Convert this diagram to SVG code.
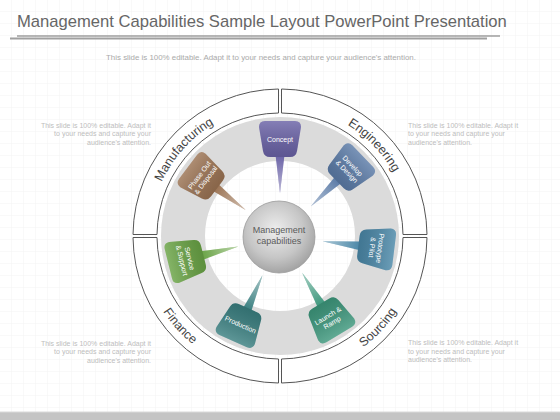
<svg xmlns="http://www.w3.org/2000/svg" xmlns:xlink="http://www.w3.org/1999/xlink" width="560" height="420" viewBox="0 0 560 420">
<style>
.title{font-family:"Liberation Sans",Arial,sans-serif;font-size:16.6px;fill:#666}
.sub{font-family:"Liberation Sans",Arial,sans-serif;font-size:7.9px;fill:#aaa;text-anchor:middle}
.side{font-family:"Liberation Sans",Arial,sans-serif;font-size:7px;fill:#bdbdbd}
.sl{text-anchor:end}
.band{fill:#fff;stroke:#555;stroke-width:1}
.rl{font-family:"Liberation Sans",Arial,sans-serif;font-size:12.5px;fill:#444}
.nt{font-family:"Liberation Sans",Arial,sans-serif;font-size:7px;fill:#fff;text-anchor:middle}
.ct{font-family:"Liberation Sans",Arial,sans-serif;font-size:9px;fill:#5a5a5a;text-anchor:middle}
</style>
<defs>
<pattern id="grid" width="12" height="12" patternUnits="userSpaceOnUse"><path d="M12 0V12M0 12H12" fill="none" stroke="#f3f3f3" stroke-width="1"/></pattern>
<linearGradient id="shade" x1="0" y1="0" x2="0" y2="1"><stop offset="0" stop-color="#fff" stop-opacity="0.18"/><stop offset="1" stop-color="#000" stop-opacity="0.12"/></linearGradient>
<linearGradient id="tailfade" x1="0" y1="0" x2="0" y2="1"><stop offset="0" stop-color="#fff" stop-opacity="0"/><stop offset="1" stop-color="#fff" stop-opacity="0.55"/></linearGradient>
<radialGradient id="sph" cx="0.45" cy="0.4" r="0.65"><stop offset="0" stop-color="#eeeeee"/><stop offset="0.6" stop-color="#c6c6c6"/><stop offset="1" stop-color="#9c9c9c"/></radialGradient>
<path id="box" d="M265,121 H295 Q301,121 301,127 L297,151 Q296,157 290,157 H270 Q264,157 263,151 L259,127 Q259,121 265,121 Z"/>
<path id="tail" d="M275.5,155 L284.5,155 L280,193 Z"/>
<path id="pManu" d="M156.4,276.2 A130,130 0 0 1 307,108.8"/>
<path id="pEng" d="M248.6,109.9 A130,130 0 0 1 405,271.8"/>
<path id="pFin" d="M147.8,193 A139,139 0 0 0 308.9,372"/>
<path id="pSrc" d="M248.7,371.4 A139,139 0 0 0 412.9,195.4"/>
</defs>
<rect width="560" height="420" fill="#fff"/>
<rect width="560" height="412" fill="url(#grid)"/>
<rect y="412" width="560" height="8" fill="#c4c4c4"/>
<line x1="0" y1="412" x2="560" y2="412" stroke="#d9d9d9" stroke-width="1"/>
<text class="title" x="17" y="27">Management Capabilities Sample Layout PowerPoint Presentation</text>
<line x1="17" y1="36" x2="500" y2="36" stroke="#707070" stroke-width="1.2"/>
<line x1="10" y1="38.6" x2="487" y2="38.6" stroke="#a0a0a0" stroke-width="2"/>
<text class="sub" x="261" y="60">This slide is 100% editable.  Adapt it to your needs and capture your audience's attention.</text>
<text class="side sl" x="151"><tspan x="151" y="127.5">This slide is 100% editable. Adapt it</tspan><tspan x="151" y="136">to your needs and capture your</tspan><tspan x="151" y="144.5">audience's attention.</tspan></text>
<text class="side" x="408"><tspan x="408" y="127.5">This slide is 100% editable. Adapt it</tspan><tspan x="408" y="136">to your needs and capture your</tspan><tspan x="408" y="144.5">audience's attention.</tspan></text>
<text class="side sl" x="151"><tspan x="151" y="345.5">This slide is 100% editable. Adapt it</tspan><tspan x="151" y="354">to your needs and capture your</tspan><tspan x="151" y="362.5">audience's attention.</tspan></text>
<text class="side" x="408"><tspan x="408" y="345">This slide is 100% editable. Adapt it</tspan><tspan x="408" y="353.5">to your needs and capture your</tspan><tspan x="408" y="362">audience's attention.</tspan></text>
<g id="ring-manufacturing"><path class="band" d="M133,234.5 A147,147 0 0 1 278.5,89 L278.5,113 A123,123 0 0 0 157,234.5 Z"/><text class="rl"><textPath href="#pManu" startOffset="50%" text-anchor="middle">Manufacturing</textPath></text></g>
<g id="ring-engineering"><path class="band" d="M281.5,89 A147,147 0 0 1 427,234.5 L403,234.5 A123,123 0 0 0 281.5,113 Z"/><text class="rl"><textPath href="#pEng" startOffset="50%" text-anchor="middle">Engineering</textPath></text></g>
<g id="ring-sourcing"><path class="band" d="M427,237.5 A147,147 0 0 1 281.5,383 L281.5,359 A123,123 0 0 0 403,237.5 Z"/><text class="rl"><textPath href="#pSrc" startOffset="50%" text-anchor="middle">Sourcing</textPath></text></g>
<g id="ring-finance"><path class="band" d="M278.5,383 A147,147 0 0 1 133,237.5 L157,237.5 A123,123 0 0 0 278.5,359 Z"/><text class="rl"><textPath href="#pFin" startOffset="50%" text-anchor="middle">Finance</textPath></text></g>
<circle cx="280" cy="236" r="97" fill="none" stroke="#dbdbdb" stroke-width="44"/>
<g id="connectors">
<g transform="rotate(0 280 236)"><use href="#tail" fill="#6a62a6"/><use href="#tail" fill="url(#tailfade)"/></g>
<g transform="rotate(46 280 236)"><use href="#tail" fill="#5b7ba7"/><use href="#tail" fill="url(#tailfade)"/></g>
<g transform="rotate(97 280 236)"><use href="#tail" fill="#4a87a7"/><use href="#tail" fill="url(#tailfade)"/></g>
<g transform="rotate(149 280 236)"><use href="#tail" fill="#3d977c"/><use href="#tail" fill="url(#tailfade)"/></g>
<g transform="rotate(204 280 236)"><use href="#tail" fill="#3a7f80"/><use href="#tail" fill="url(#tailfade)"/></g>
<g transform="rotate(256 280 236)"><use href="#tail" fill="#69a345"/><use href="#tail" fill="url(#tailfade)"/></g>
<g transform="rotate(307 280 236)"><use href="#tail" fill="#9b7353"/><use href="#tail" fill="url(#tailfade)"/></g>
</g>
<g id="node-concept" transform="rotate(0 280 236)"><use href="#box" fill="#6a62a6"/><use href="#box" fill="url(#shade)"/><text class="nt" x="280" y="141.5">Concept</text></g>
<g id="node-develop" transform="rotate(46 280 236)"><use href="#box" fill="#5b7ba7"/><use href="#box" fill="url(#shade)"/><text class="nt"><tspan x="280" y="137.5">Develop</tspan><tspan x="280" y="145.5">&amp; Design</tspan></text></g>
<g id="node-prototype" transform="rotate(97 280 236)"><use href="#box" fill="#4a87a7"/><use href="#box" fill="url(#shade)"/><text class="nt"><tspan x="280" y="137.5">Prototype</tspan><tspan x="280" y="145.5">&amp; Pilot</tspan></text></g>
<g id="node-launch" transform="rotate(149 280 236)"><use href="#box" fill="#3d977c"/><use href="#box" fill="url(#shade)"/><text class="nt" transform="rotate(180 280 139)"><tspan x="280" y="137.5">Launch &amp;</tspan><tspan x="280" y="145.5">Ramp</tspan></text></g>
<g id="node-production" transform="rotate(204 280 236)"><use href="#box" fill="#3a7f80"/><use href="#box" fill="url(#shade)"/><text class="nt" transform="rotate(180 280 139)" x="280" y="141.5">Production</text></g>
<g id="node-service" transform="rotate(256 280 236)"><use href="#box" fill="#69a345"/><use href="#box" fill="url(#shade)"/><text class="nt" transform="rotate(180 280 139)"><tspan x="280" y="137.5">Service</tspan><tspan x="280" y="145.5">&amp; Support</tspan></text></g>
<g id="node-phaseout" transform="rotate(307 280 236)"><use href="#box" fill="#9b7353"/><use href="#box" fill="url(#shade)"/><text class="nt"><tspan x="280" y="137.5">Phase Out</tspan><tspan x="280" y="145.5">&amp; Disposal</tspan></text></g>
<g id="node-center"><circle cx="279" cy="237" r="36" fill="url(#sph)" stroke="#9a9a9a" stroke-width="0.8"/><text class="ct" x="279" y="233">Management</text><text class="ct" x="279" y="244">capabilities</text></g>
</svg>
